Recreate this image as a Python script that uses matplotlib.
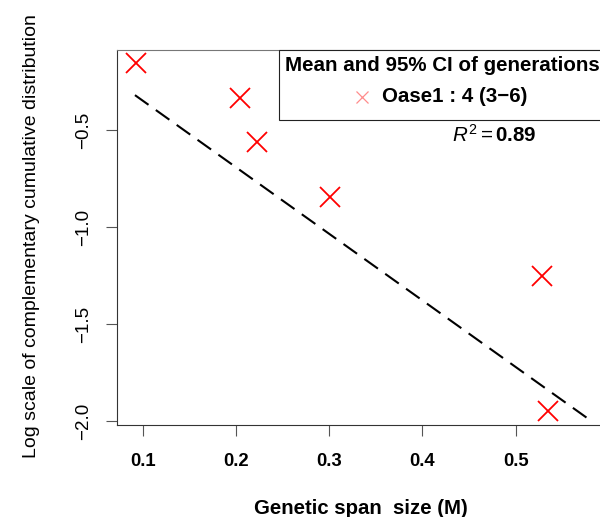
import matplotlib
matplotlib.use('Agg')
import matplotlib.pyplot as plt
from matplotlib.patches import Rectangle

plt.rcParams['font.family'] = ['Liberation Sans', 'DejaVu Sans']
plt.rcParams['mathtext.fontset'] = 'custom'
plt.rcParams['mathtext.rm'] = 'Liberation Sans'
plt.rcParams['mathtext.it'] = 'Liberation Sans:italic'
plt.rcParams['mathtext.bf'] = 'Liberation Sans:bold'

# points
span_size = [0.0928, 0.2043, 0.2229, 0.3009, 0.528, 0.535]
log_ccdf = [-0.156, -0.337, -0.560, -0.847, -1.253, -1.947]

# fitted line (end points)
fit_x = [0.0917, 0.577]
fit_y = [-0.320, -1.986]

x_ticks = [0.1, 0.2, 0.3, 0.4, 0.5]
y_ticks = [-2.0, -1.5, -1.0, -0.5]
legend_title = 'Mean and 95% CI of generations'
legend_label = 'Oase1 : 4 (3\u22126)'
r2_value = 0.89

fig = plt.figure(figsize=(6.0, 5.17), dpi=100)
ax = fig.add_axes([0.195, 0.1779, 0.8217, 0.7253])

ax.plot(span_size, log_ccdf, linestyle='none', marker='x', markersize=15,
        markeredgewidth=1.3, color='#ff0000')
ax.plot(fit_x, fit_y, color='black', linewidth=1.5, dashes=(8, 4.3))

ax.set_xlim(0.07244, 0.6011)
ax.set_ylim(-2.0206, -0.0876)
ax.set_xticks(x_ticks)
ax.set_xticklabels([f'{v:.1f}' for v in x_ticks], fontsize=13.3, fontweight='bold')
ax.set_yticks(y_ticks)
ax.set_yticklabels([f'\u2212{abs(v):.1f}' for v in y_ticks], fontsize=13.5,
                   rotation=90, va='center')
ax.tick_params(axis='both', direction='out', length=8, width=0.8, color='#555555')
ax.tick_params(axis='x', pad=12.5)
ax.tick_params(axis='y', pad=10)
for s in ax.spines.values():
    s.set_linewidth(0.8)
    s.set_color('#333333')
ax.spines['top'].set_color('#777777')

# legend box
ax.add_patch(Rectangle((0.329, 0.8133), 0.671, 0.1867, transform=ax.transAxes,
                       facecolor='white', edgecolor='#222222', linewidth=0.8,
                       clip_on=False, zorder=3))
ax.text(0.659, 0.96, legend_title, transform=ax.transAxes, ha='center', va='center',
        fontsize=14.8, fontweight='bold', zorder=4)
ax.plot([0.4963], [0.8755], transform=ax.transAxes, marker='x', markersize=8,
        markeredgewidth=0.9, color='#ff8c8c', linestyle='none', zorder=4, clip_on=False)
ax.text(0.537, 0.8755, legend_label, transform=ax.transAxes, ha='left', va='center',
        fontsize=14.8, fontweight='bold', zorder=4)
ax.text(0.679, 0.7733, r'$R^2=$' + f'{r2_value:.2f}', transform=ax.transAxes,
        ha='left', va='center', fontsize=14.8, fontweight='bold')

fig.text(361 / 600, 1 - 508 / 517, 'Genetic span  size (M)', ha='center', va='center',
         fontsize=14.7, fontweight='bold')
fig.text(32 / 600, 1 - 236 / 517, 'Log scale of complementary cumulative distribution',
         ha='center', va='center', rotation=90, fontsize=14)

fig.savefig('out.png', dpi=100)
